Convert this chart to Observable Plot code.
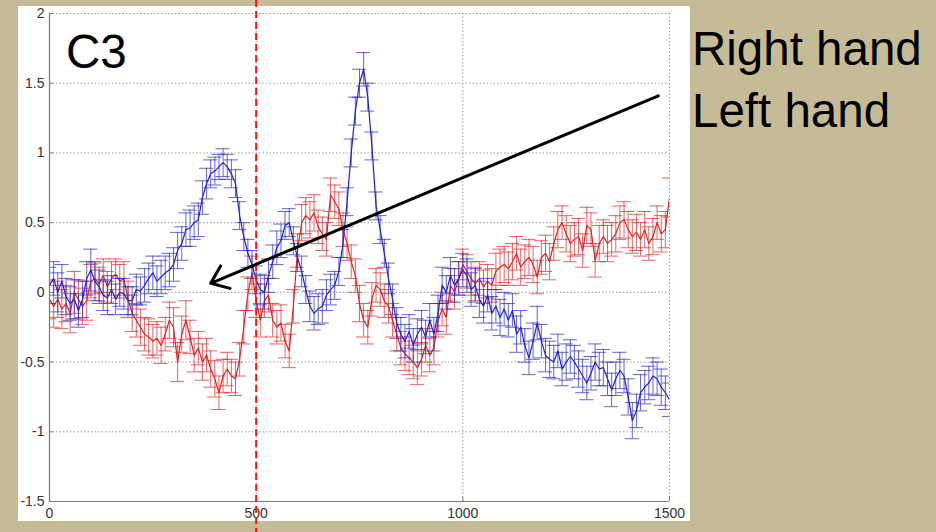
<!DOCTYPE html>
<html><head><meta charset="utf-8">
<script src="https://cdn.jsdelivr.net/npm/d3@7"></script>
<script src="https://cdn.jsdelivr.net/npm/@observablehq/plot@0.6"></script>
<style>
html,body{margin:0;padding:0;background:#c5bb97;}
#wrap{position:relative;width:936px;height:532px;overflow:hidden;background:#c5bb97;font-family:"Liberation Sans",Arial,sans-serif;}
#panel{position:absolute;left:18px;top:6px;width:672px;height:515px;background:#fff;}
#chart{position:absolute;left:0;top:0;}
.lbl{position:absolute;font-size:47.5px;line-height:1;color:#000;white-space:nowrap;}
</style></head>
<body>
<div id="wrap">
  <div id="panel"></div>
  <div id="chart"></div>
  <div class="lbl" style="left:66px;top:28px;">C3</div>
  <div class="lbl" style="left:692px;top:25px;">Right hand</div>
  <div class="lbl" style="left:692px;top:87px;">Left hand</div>
</div>
<script>
// time (ms)
const timeMs = [
0,10,20,30,40,50,60,70,80,90,
100,110,120,130,140,150,160,170,180,190,
200,210,220,230,240,250,260,270,280,290,
300,310,320,330,340,350,360,370,380,390,
400,410,420,430,440,450,460,470,480,490,
500,510,520,530,540,550,560,570,580,590,
600,610,620,630,640,650,660,670,680,690,
700,710,720,730,740,750,760,770,780,790,
800,810,820,830,840,850,860,870,880,890,
900,910,920,930,940,950,960,970,980,990,
1000,1010,1020,1030,1040,1050,1060,1070,1080,1090,
1100,1110,1120,1130,1140,1150,1160,1170,1180,1190,
1200,1210,1220,1230,1240,1250,1260,1270,1280,1290,
1300,1310,1320,1330,1340,1350,1360,1370,1380,1390,
1400,1410,1420,1430,1440,1450,1460,1470,1480,1490,
1500];

// blue series mean
const blueMean = [
0.05,0.1,0.0,0.08,-0.03,-0.08,-0.05,-0.13,-0.05,0.1,
0.16,0.08,0.04,-0.02,-0.04,0.02,-0.05,0.0,-0.01,-0.06,
-0.06,0.02,0.01,0.05,0.1,0.14,0.08,0.11,0.14,0.16,
0.2,0.3,0.35,0.45,0.46,0.5,0.52,0.68,0.78,0.85,
0.87,0.9,0.93,0.9,0.85,0.78,0.55,0.4,0.28,0.2,
0.09,0.02,0.0,0.12,0.22,0.32,0.37,0.48,0.5,0.37,
0.25,0.15,0.02,-0.1,-0.15,-0.12,-0.1,-0.02,0.02,0.05,
0.15,0.35,0.65,1.0,1.3,1.5,1.6,1.4,1.05,0.62,
0.45,0.28,0.1,-0.05,-0.22,-0.3,-0.35,-0.28,-0.38,-0.3,
-0.25,-0.32,-0.2,-0.3,-0.15,0.05,0.0,0.12,0.05,0.1,
0.16,0.12,0.02,0.05,-0.05,-0.1,-0.02,-0.15,-0.1,-0.18,
-0.12,-0.2,-0.13,-0.3,-0.25,-0.38,-0.47,-0.35,-0.22,-0.35,
-0.45,-0.48,-0.5,-0.42,-0.55,-0.5,-0.46,-0.5,-0.55,-0.6,
-0.65,-0.58,-0.5,-0.55,-0.54,-0.62,-0.7,-0.62,-0.56,-0.6,
-0.75,-0.92,-0.85,-0.72,-0.68,-0.65,-0.6,-0.62,-0.68,-0.72,
-0.77];

const blueErr = [
0.13,0.12,0.14,0.12,0.13,0.12,0.14,0.12,0.13,0.12,
0.15,0.14,0.12,0.11,0.12,0.1,0.11,0.1,0.11,0.1,
0.1,0.11,0.1,0.12,0.11,0.12,0.11,0.12,0.12,0.12,
0.12,0.13,0.12,0.12,0.13,0.12,0.12,0.12,0.11,0.1,
0.1,0.09,0.1,0.09,0.1,0.1,0.1,0.1,0.1,0.1,
0.1,0.11,0.12,0.12,0.12,0.12,0.12,0.1,0.1,0.1,
0.1,0.11,0.1,0.11,0.12,0.11,0.12,0.11,0.11,0.1,
0.1,0.1,0.1,0.1,0.1,0.1,0.12,0.1,0.1,0.1,
0.1,0.1,0.11,0.11,0.11,0.12,0.12,0.12,0.12,0.11,
0.12,0.12,0.12,0.12,0.13,0.13,0.12,0.13,0.12,0.12,
0.12,0.12,0.12,0.12,0.13,0.12,0.12,0.12,0.12,0.13,
0.12,0.12,0.12,0.13,0.12,0.12,0.12,0.13,0.12,0.12,
0.12,0.13,0.12,0.12,0.12,0.13,0.12,0.12,0.13,0.12,
0.12,0.12,0.13,0.12,0.13,0.12,0.12,0.12,0.13,0.12,
0.13,0.13,0.12,0.13,0.12,0.12,0.13,0.12,0.13,0.12,
0.12];

// red series mean
const redMean = [
-0.05,-0.1,-0.05,-0.12,-0.08,-0.15,0.0,-0.05,-0.1,-0.06,
0.08,0.1,0.06,0.12,0.04,0.1,0.13,0.08,0.1,-0.05,
-0.15,-0.2,-0.25,-0.3,-0.32,-0.35,-0.33,-0.38,-0.3,-0.2,
-0.25,-0.5,-0.3,-0.2,-0.32,-0.45,-0.4,-0.5,-0.45,-0.55,
-0.62,-0.72,-0.6,-0.55,-0.6,-0.62,-0.48,-0.25,-0.01,0.14,
-0.06,-0.2,-0.06,-0.02,-0.2,-0.25,-0.22,-0.35,-0.42,-0.1,
0.3,0.5,0.55,0.52,0.57,0.47,0.42,0.38,0.7,0.65,
0.6,0.45,0.35,0.22,0.12,-0.08,-0.2,-0.25,-0.05,0.05,
0.02,-0.06,-0.1,-0.2,-0.3,-0.4,-0.44,-0.47,-0.5,-0.54,
-0.48,-0.38,-0.45,-0.4,-0.2,-0.12,-0.18,0.05,0.0,0.1,
0.2,0.15,0.1,0.06,0.1,0.04,0.08,0.05,0.15,0.18,
0.2,0.17,0.22,0.28,0.18,0.22,0.25,0.2,0.11,0.25,
0.28,0.22,0.35,0.45,0.5,0.42,0.35,0.38,0.4,0.3,
0.48,0.45,0.23,0.35,0.4,0.35,0.38,0.42,0.5,0.52,
0.45,0.4,0.43,0.38,0.45,0.35,0.4,0.5,0.42,0.45,
0.68];

const redErr = [
0.14,0.15,0.13,0.14,0.13,0.14,0.15,0.14,0.13,0.14,
0.12,0.11,0.12,0.12,0.11,0.12,0.11,0.12,0.12,0.13,
0.13,0.12,0.13,0.12,0.13,0.12,0.12,0.13,0.12,0.13,
0.14,0.14,0.13,0.14,0.12,0.12,0.12,0.13,0.12,0.13,
0.13,0.12,0.12,0.12,0.12,0.12,0.12,0.12,0.12,0.12,
0.12,0.12,0.12,0.12,0.12,0.12,0.13,0.12,0.12,0.12,
0.12,0.13,0.13,0.13,0.13,0.12,0.12,0.12,0.12,0.12,
0.12,0.12,0.12,0.12,0.12,0.13,0.12,0.12,0.12,0.12,
0.12,0.12,0.12,0.12,0.12,0.12,0.12,0.12,0.12,0.12,
0.12,0.12,0.12,0.12,0.12,0.12,0.12,0.12,0.12,0.12,
0.11,0.12,0.12,0.12,0.12,0.12,0.12,0.12,0.13,0.13,
0.13,0.12,0.13,0.12,0.13,0.12,0.13,0.13,0.12,0.12,
0.13,0.13,0.12,0.13,0.12,0.13,0.13,0.12,0.13,0.12,
0.13,0.12,0.12,0.13,0.12,0.13,0.12,0.13,0.12,0.13,
0.13,0.12,0.13,0.12,0.13,0.12,0.13,0.12,0.13,0.13,
0.14];

const xTicks = [0, 500, 1000, 1500];
const yTicks = [-1.5, -1, -0.5, 0, 0.5, 1, 1.5, 2];
const onsetMs = [500];
const arrowStart = {x: 1473, y: 1.41};
const arrowEnd = {x: 390, y: 0.065};

const BLUE = "#2222c4", RED = "#dc2222";
const capHalf = 17;

const blue = timeMs.map((t, i) => ({t, v: blueMean[i], e: blueErr[i]}));
const red = timeMs.map((t, i) => ({t, v: redMean[i], e: redErr[i]}));

function errorSeries(data, color) {
  const o = 0.7;
  return [
    Plot.ruleX(data, {x: "t", y1: d => d.v - d.e, y2: d => d.v + d.e, stroke: color, strokeOpacity: o, strokeWidth: 1, clip: true}),
    Plot.ruleY(data, {y: d => d.v + d.e, x1: d => d.t - capHalf, x2: d => d.t + capHalf, stroke: color, strokeOpacity: o, strokeWidth: 1, clip: true}),
    Plot.ruleY(data, {y: d => d.v - d.e, x1: d => d.t - capHalf, x2: d => d.t + capHalf, stroke: color, strokeOpacity: o, strokeWidth: 1, clip: true}),
    Plot.line(data, {x: "t", y: "v", stroke: color, strokeWidth: 1.2, clip: true})
  ];
}

const chart = Plot.plot({
  width: 936,
  height: 532,
  marginLeft: 49,
  marginRight: 267,
  marginTop: 13,
  marginBottom: 31,
  style: {background: "transparent", fontFamily: "'Liberation Sans', Arial, sans-serif", color: "#333", overflow: "visible"},
  x: {domain: [0, 1500]},
  y: {domain: [-1.5, 2]},
  marks: [
    Plot.ruleY(yTicks, {stroke: "#9a9a9a", strokeDasharray: "1.5,2"}),
    Plot.ruleX(xTicks.slice(1), {stroke: "#9a9a9a", strokeDasharray: "1.5,2"}),
    ...errorSeries(red, RED),
    ...errorSeries(blue, BLUE),
    Plot.ruleX([0], {stroke: "#7a7a7a", strokeWidth: 1.2}),
    Plot.ruleY([-1.5], {stroke: "#7a7a7a", strokeWidth: 1.2}),
    Plot.axisX({ticks: xTicks, tickFormat: d => String(d), tickSize: -4, tickPadding: 11, fontSize: 14, stroke: "#7a7a7a"}),
    Plot.axisY({ticks: yTicks, tickFormat: d => String(d), tickSize: -4, tickPadding: 9, fontSize: 14, stroke: "#7a7a7a"}),
    Plot.ruleX(onsetMs, {stroke: "#ff1010", strokeWidth: 2, strokeDasharray: "7,4", insetTop: -13, insetBottom: -31}),
    Plot.arrow([{x1: arrowStart.x, y1: arrowStart.y, x2: arrowEnd.x, y2: arrowEnd.y}], {x1: "x1", y1: "y1", x2: "x2", y2: "y2", stroke: "#000", strokeWidth: 3, headLength: 10, headAngle: 75})
  ]
});
document.getElementById("chart").appendChild(chart);
</script>
</body></html>
